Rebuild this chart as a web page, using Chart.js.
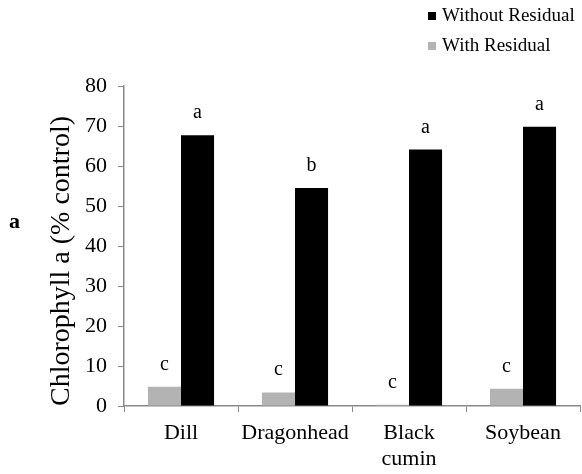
<!DOCTYPE html>
<html>
<head>
<meta charset="utf-8">
<script src="https://cdn.jsdelivr.net/npm/chart.js@4"></script>
<style>
  html, body { margin: 0; padding: 0; background: #fff; }
  #wrap { position: relative; width: 582px; height: 474px; font-family: "Liberation Serif", "Times New Roman", serif; }
  canvas { position: absolute; left: 0; top: 0; }
  .leg { position: absolute; left: 428px; font-size: 19px; color: #000; line-height: 22px; white-space: nowrap; }
  .leg span.sw { display: inline-block; width: 8px; height: 8px; margin-right: 6px; vertical-align: 1px; }
  #panel { position: absolute; left: 9px; top: 208px; font-size: 22px; font-weight: bold; }
</style>
</head>
<body>
<div id="wrap">
  <canvas id="c" width="582" height="474"></canvas>
  <div class="leg" style="top:4px"><span class="sw" style="background:#000"></span>Without Residual</div>
  <div class="leg" style="top:34px"><span class="sw" style="background:#b3b3b3"></span>With Residual</div>
  <div id="panel">a</div>
</div>
<script>
const categories = ["Dill", "Dragonhead", ["Black", "cumin"], "Soybean"];
const withResidual = [4.8, 3.4, 0.3, 4.3];
const withoutResidual = [67.7, 54.5, 64.1, 69.8];
const withLetters = ["c", "c", "c", "c"];
const withoutLetters = ["a", "b", "a", "a"];
const yTicks = [0, 10, 20, 30, 40, 50, 60, 70, 80];

const letterPlugin = {
  id: 'letters',
  afterDatasetsDraw(chart) {
    const ctx = chart.ctx;
    ctx.save();
    ctx.font = '20px "Liberation Serif", serif';
    ctx.fillStyle = '#000';
    ctx.textAlign = 'center';
    ctx.textBaseline = 'alphabetic';
    const sets = [withLetters, withoutLetters];
    sets.forEach((letters, di) => {
      const meta = chart.getDatasetMeta(di);
      meta.data.forEach((bar, i) => {
        ctx.fillText(letters[i], bar.x, bar.y - 17);
      });
    });
    ctx.restore();
  }
};

new Chart(document.getElementById('c'), {
  type: 'bar',
  data: {
    labels: categories,
    datasets: [
      { label: 'With Residual', data: withResidual, backgroundColor: '#b3b3b3', borderWidth: 0 },
      { label: 'Without Residual', data: withoutResidual, backgroundColor: '#000000', borderWidth: 0 }
    ]
  },
  options: {
    responsive: false,
    animation: false,
    layout: { padding: { top: 86, right: 2, left: 0, bottom: 0 } },
    plugins: { legend: { display: false }, tooltip: { enabled: false } },
    datasets: { bar: { barPercentage: 1.0, categoryPercentage: 0.58 } },
    scales: {
      x: {
        grid: { display: true, drawOnChartArea: false, offset: true, color: '#898989', tickLength: 6 },
        border: { color: '#898989', width: 1.5 },
        ticks: { color: '#000', font: { family: '"Liberation Serif", serif', size: 22, lineHeight: 1.15 }, padding: 9, maxRotation: 0, autoSkip: false },
        afterFit(s) { s.height = 68; }
      },
      y: {
        min: 0, max: 80,
        afterBuildTicks(s) { s.ticks = yTicks.map(v => ({ value: v })); },
        grid: { display: true, drawOnChartArea: false, color: '#898989', tickLength: 6 },
        border: { color: '#898989', width: 1.5 },
        ticks: { color: '#000', font: { family: '"Liberation Serif", serif', size: 22 }, padding: 11 },
        title: { display: true, align: 'start', text: 'Chlorophyll a (% control)', color: '#000', font: { family: '"Liberation Serif", serif', size: 28 }, padding: { top: 45, bottom: 0 } },
        afterFit(s) { s.width = 124; }
      }
    }
  },
  plugins: [letterPlugin]
});
</script>
</body>
</html>
